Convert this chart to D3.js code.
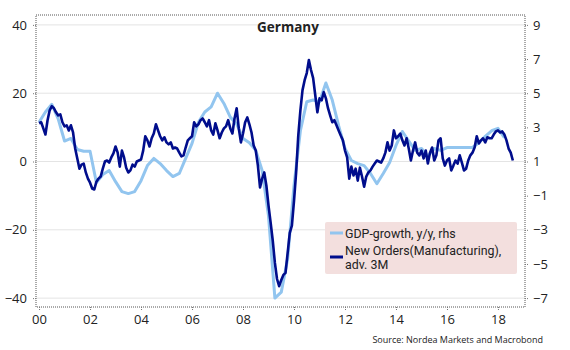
<!DOCTYPE html>
<html>
<head>
<meta charset="utf-8">
<script src="https://cdn.jsdelivr.net/npm/d3@7"></script>
<style>
  body { margin: 0; background: #fff; }
  text { font-family: "Open Sans", "Noto Sans", sans-serif; fill: #222; }
</style>
</head>
<body>
<div id="chart"></div>
<script>
// GDP growth y/y, quarterly from 2000 Q1 (rhs)
const gdpStart = 2000;
const gdp = [3.3, 3.9, 4.35, 3.5, 2.2, 2.35, 1.7, 1.6,
  1.6, -0.24, 0.24, 0.47, -0.18, -0.76, -0.88, -0.76,
  -0.12, 0.76, 1.18, 0.88, 0.47, 0.12, 0.3, 1.18,
  2.06, 3.3, 3.9, 4.2, 5.0, 4.4, 3.6, 3.2,
  2.35, 2.1, 1.65, 0.47, -2.2, -7.0, -6.65, -4.7,
  -0.4, 2.8, 4.5, 4.6, 4.5, 5.6, 4.6, 3.1,
  1.76, 1.06, 0.88, 0.76, 0.3, -0.3, 0.3, 0.94,
  1.94, 2.76, 2.2, 1.65, 1.76, 1.3, 1.76, 1.65,
  1.82, 1.82, 1.82, 1.82, 1.82, 2.1, 2.47, 2.8,
  2.94, 2.4];

// New orders (manufacturing), adv. 3M, monthly from Jan 2000 (lhs)
const ordersStart = 2000;
const orders = [11.2, 11.5, 9.7, 7.9, 12.1, 15.0, 16.2, 15.6, 14.4, 13.5, 13.8, 11.5,
  10.3, 10.6, 9.1, 10.6, 8.5, 3.8, 0.9, -2.1, -0.9, -0.6, -3.2, -5.0,
  -6.2, -7.9, -8.2, -5.9, -5.0, -4.4, -2.1, 0, 0.3, -0.3, 1.2, 2.4,
  4.4, 2.6, -1.5, 3.2, 1.2, -1.8, -3.2, -2.6, -0.9, -1.5, 0, 0.3,
  0.6, 3.2, 7.4, 6.2, 4.4, 6.8, 8.2, 10.9, 9.1, 7.4, 6.2, 7.1,
  5.6, 5.0, 5.6, 3.8, 4.1, 3.8, 2.6, 1.5, 1.8, 4.1, 6.2, 6.8,
  7.4, 11.5, 10.3, 10.9, 12.1, 12.6, 11.5, 10.3, 12.1, 9.1, 7.9, 11.2,
  9.1, 6.8, 8.5, 9.7, 10.3, 12.1, 9.7, 8.2, 12.6, 15.6, 9.7, 5.6,
  8.2, 11.5, 12.9, 10.9, 8.5, 4.7, 3.2, -1.2, -7.6, -5.0, -3.2, -7.1,
  -12.9, -17.9, -23.2, -29.7, -34.4, -36.5, -34.7, -33.2, -32.6, -26.8, -20.9, -18.8,
  -11.5, -3.2, 7.6, 15.0, 20.9, 23.8, 25.9, 29.7, 26.8, 24.4, 19.4, 14.4,
  18.5, 17.9, 20.3, 18.5, 15.6, 13.5, 11.5, 12.1, 10.6, 9.1, 7.6, 6.2,
  3.2, 1.2, -5.0, -1.5, -4.1, -2.1, -5.6, -1.8, -4.4, -7.4, -4.4, -3.2,
  -2.6, -1.5, -0.6, 0.3, 0, -0.3, 0.9, 2.6, 5.6, 3.2, 4.7, 9.1,
  6.8, 7.4, 8.2, 6.2, 4.7, 6.8, 3.8, 0.3, 3.2, 5.6, 2.6, 1.8,
  3.2, 0.9, 3.2, -0.6, 2.6, 4.1, 0.3, 1.8, 6.2, 6.8, 0.9, -1.2,
  0.3, 0.9, -2.6, -1.2, 0.3, -0.6, 1.8, -0.3, -2.6, -2.1, 0.3, 1.8,
  2.6, 4.1, 7.4, 5.3, 6.2, 6.8, 5.6, 7.1, 6.8, 6.8, 7.9, 8.8,
  9.1, 8.5, 8.8, 7.9, 6.2, 3.8, 2.6, 0.3];

const leftTicks = [-40, -20, 0, 20, 40];
const rightTicks = [-7, -5, -3, -1, 1, 3, 5, 7, 9];
const yearTicks = [2000, 2002, 2004, 2006, 2008, 2010, 2012, 2014, 2016, 2018];

const legendLabels = [["GDP-growth, y/y, rhs"], ["New Orders(Manufacturing),", "adv. 3M"]];
const colors = ["#92c5ef", "#000d8c"];

const W = 570, H = 350;
const plot = {left: 36, right: 525, top: 15, bottom: 307};

const svg = d3.select("#chart").append("svg")
  .attr("width", W).attr("height", H);

const x = d3.scaleLinear().domain([1999.88, 2019.06]).range([plot.left, plot.right]);
const yL = d3.scaleLinear().domain([-42.6, 42.9]).range([plot.bottom, plot.top]);
const yR = d3.scaleLinear().domain([1 - 42.6 / 5, 1 + 42.9 / 5]).range([plot.bottom, plot.top]);

// gridlines
svg.append("g").selectAll("line").data(leftTicks).join("line")
  .attr("x1", plot.left).attr("x2", plot.right)
  .attr("y1", d => yL(d)).attr("y2", d => yL(d))
  .attr("stroke", "#e4e4e4").attr("stroke-width", 1);

// dotted frame
svg.append("rect")
  .attr("x", plot.left).attr("y", plot.top)
  .attr("width", plot.right - plot.left).attr("height", plot.bottom - plot.top)
  .attr("fill", "none").attr("stroke", "#555").attr("stroke-width", 1)
  .attr("stroke-dasharray", "1,1");

// axes
const leftAxis = svg.append("g").attr("transform", `translate(${plot.left},0)`)
  .call(d3.axisLeft(yL).tickValues(leftTicks).tickSize(4).tickPadding(5));
const rightAxis = svg.append("g").attr("transform", `translate(${plot.right},0)`)
  .call(d3.axisRight(yR).tickValues(rightTicks).tickSize(4).tickPadding(4));
const bottomAxis = svg.append("g").attr("transform", `translate(0,${plot.bottom})`)
  .call(d3.axisBottom(x).tickValues(yearTicks).tickFormat(d => d3.format("02")(d % 100)).tickSize(4).tickPadding(4));

[leftAxis, rightAxis, bottomAxis].forEach(a => {
  a.select(".domain").remove();
  a.selectAll(".tick line").attr("stroke", "#777").attr("stroke-dasharray", "1,1");
  a.selectAll(".tick text").style("font-size", "13px").attr("fill", "#222");
});

// lines
const gdpLine = d3.line()
  .x((d, i) => x(gdpStart + i / 4))
  .y(d => yR(d));
const ordersLine = d3.line()
  .x((d, i) => x(ordersStart + i / 12))
  .y(d => yL(d));

svg.append("path").datum(gdp)
  .attr("d", gdpLine).attr("fill", "none")
  .attr("stroke", colors[0]).attr("stroke-width", 3).attr("stroke-linejoin", "round");
svg.append("path").datum(orders)
  .attr("d", ordersLine).attr("fill", "none")
  .attr("stroke", colors[1]).attr("stroke-width", 2.6).attr("stroke-linejoin", "round");

// title
svg.append("text").attr("x", 288).attr("y", 32)
  .attr("text-anchor", "middle")
  .style("font-size", "13.5px").style("font-weight", "bold")
  .text("Germany");

// legend
const lg = svg.append("g");
lg.append("rect").attr("x", 325).attr("y", 222).attr("width", 192).attr("height", 52)
  .attr("rx", 2).attr("fill", "#f3dfde");
const legendY = [233, 257];
legendLabels.forEach((lines, i) => {
  lg.append("line").attr("x1", 330).attr("x2", 343)
    .attr("y1", legendY[i]).attr("y2", legendY[i])
    .attr("stroke", colors[i]).attr("stroke-width", 3);
  lines.forEach((s, j) => {
    lg.append("text").attr("x", 345).attr("y", (i === 0 ? 237.5 : 254.5) + j * 14.5)
      .style("font-family", "Roboto, sans-serif")
      .style("font-size", "12.4px")
      .text(s);
  });
});

// source
svg.append("text").attr("x", 543).attr("y", 343)
  .attr("text-anchor", "end").style("font-size", "9px").attr("fill", "#333")
  .text("Source: Nordea Markets and Macrobond");
</script>
</body>
</html>
